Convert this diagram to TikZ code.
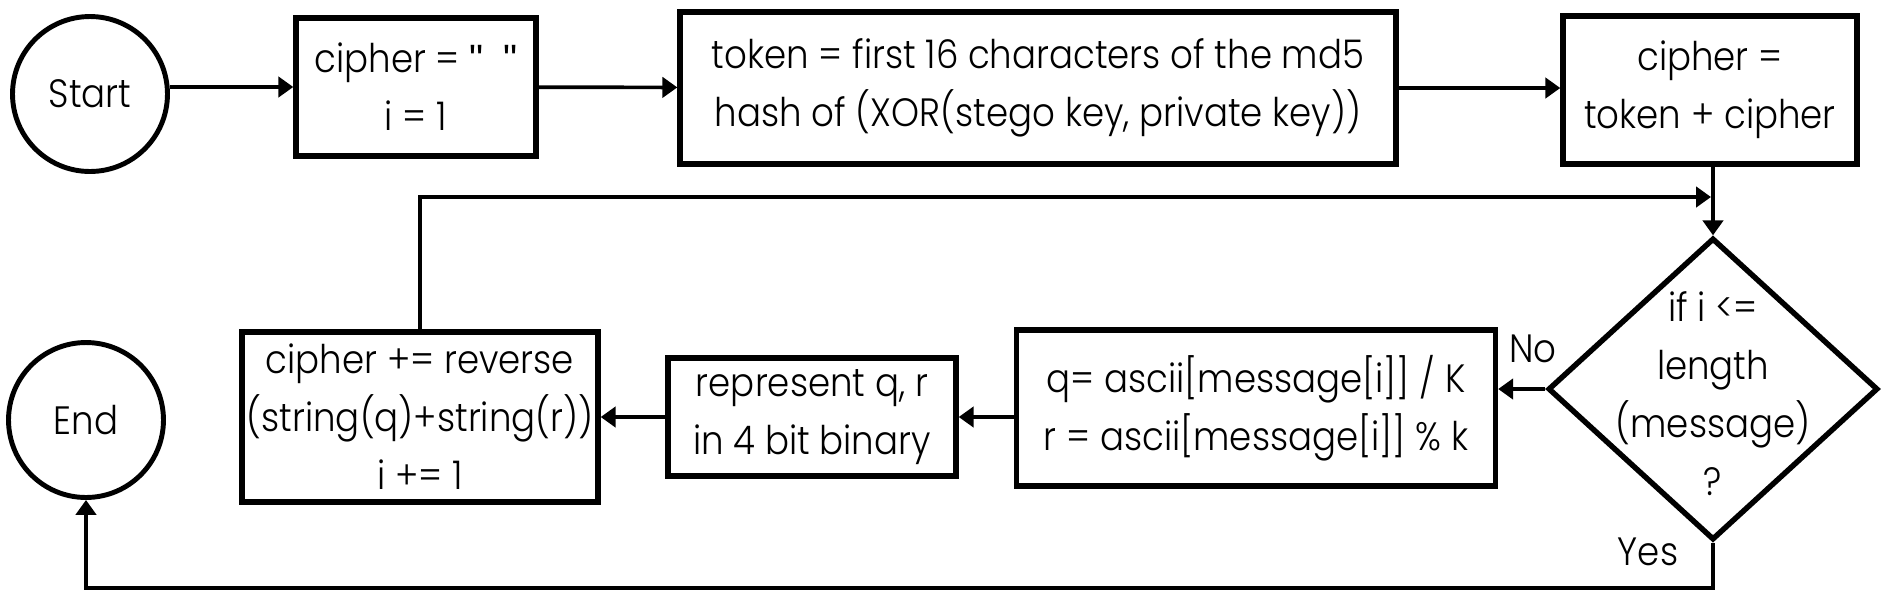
\documentclass[tikz,border=0pt]{standalone}
\usepackage{fontspec}
\IfFontExistsTF{Poppins Light}
    {\setmainfont{Poppins Light}[FakeStretch=0.9]}
    {\setmainfont{Poppins}[FakeStretch=0.9]}
\newfontfamily\quotefont{Liberation Sans}
\usetikzlibrary{shapes.geometric, arrows.meta}

\begin{document}
\begin{tikzpicture}[x=0.02cm, y=-0.02cm,
    box/.style={draw, line width=3.1pt, align=center, inner sep=0pt},
    term/.style={draw, circle, line width=2.8pt, minimum size=3.1cm, inner sep=0pt},
    arrow/.style={line width=2.1pt, -{Triangle[length=8.5pt, width=11.5pt]}},
    font=\fontsize{22.5}{33}\selectfont]
    % Fix the page to the reference size (pixel units, y downwards)
    \useasboundingbox (0,0) rectangle (1881,600);

    % Top row: start and the set-up steps
    \node[term] (start) at (90,94) {Start};
    \node[box, minimum width=4.8cm, minimum height=2.76cm] (init) at (416,87)
        {cipher = {\quotefont"}\ \ {\quotefont"}\\i = 1};
    \node[box, minimum width=14.32cm, minimum height=3.04cm] (token) at (1038,88)
        {token = first 16 characters of the md5\\hash of (XOR(stego key, private key))};
    \node[box, minimum width=5.88cm, minimum height=2.96cm] (prepend) at (1710,90) {cipher =\\token + cipher};

    % The loop test (text may run over the edges, as in the original)
    \node[draw, diamond, line width=3.1pt, inner sep=0pt,
          minimum width=6.6cm, minimum height=6.04cm,
          label={[align=center, yshift=-0.09cm]center:if i <=\\length\\(message)\\?}] (test) at (1713,389) {};

    % Bottom row: the loop body and the end
    \node[box, minimum width=9.58cm, minimum height=3.12cm] (divmod) at (1256,408)
        {q= ascii[message[i]] / K\\r = ascii[message[i]] \% k};
    \node[box, minimum width=5.76cm, minimum height=2.36cm] (binary) at (812,417)
        {represent q, r\\in 4 bit binary};
    \node[box, minimum width=7.12cm, minimum height=3.4cm] (append) at (420,417)
        {cipher += reverse\\(string(q)+string(r))\\i += 1};
    \node[term] (end) at (86,420) {End};

    % Where the loop comes back in
    \coordinate (back) at (1711,197);

    % Connectors
    \draw[arrow] (start.east |- init.west) -- (init.west);
    \draw[arrow] (init) -- (token);
    \draw[arrow] (token.east) -- (token.east -| prepend.west);
    \draw[arrow] (prepend.south -| test.north) -- (test.north);
    \draw[arrow] (append.north) |- (back);
    \draw[arrow] (test.west) -- (test.west -| divmod.east);
    \draw[arrow] (binary.east -| divmod.west) -- (binary.east);
    \draw[arrow] (binary.west) -- (binary.west -| append.east);
    \draw[arrow] (test.south) -- ++(0,45) -| (end.south);

    % Branch labels
    \node at (1533,349) {No};
    \node at (1648,552) {Yes};
\end{tikzpicture}
\end{document}
